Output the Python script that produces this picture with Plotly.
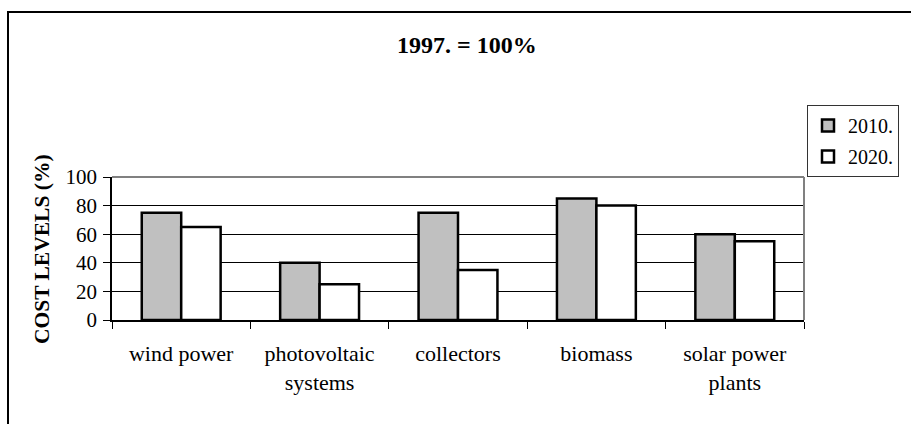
import plotly.graph_objects as go

categories = ["wind power", "photovoltaic<br>systems", "collectors", "biomass", "solar power<br>plants"]
values_2010 = [75, 40, 75, 85, 60]
values_2020 = [65, 25, 35, 80, 55]
series_names = ["2010.", "2020."]
y_ticks = [0, 20, 40, 60, 80, 100]

W, H = 911, 424
L, R, T, B = 112, 804, 177, 320
pw, ph = R - L, B - T

def px(x):
    return (x - L) / pw

def py(y):
    return (B - y) / ph

FONT = "Liberation Serif, Times New Roman, serif"

fig = go.Figure()
fig.add_trace(go.Bar(
    x=categories, y=values_2010, name=series_names[0],
    marker=dict(color="#C0C0C0", line=dict(color="black", width=2.5)),
    legendgroup="a",
))
fig.add_trace(go.Bar(
    x=categories, y=values_2020, name=series_names[1],
    marker=dict(color="white", line=dict(color="black", width=2.5)),
    legendgroup="b",
))

fig.update_layout(
    width=W, height=H,
    margin=dict(l=L, r=W - R, t=T, b=H - B, pad=0),
    paper_bgcolor="white", plot_bgcolor="white",
    barmode="group", bargap=0.43, bargroupgap=0,
    font=dict(family=FONT, size=20, color="black"),
    showlegend=True,
    legend=dict(
        x=px(807), y=py(105), xanchor="left", yanchor="top",
        bgcolor="white", bordercolor="#333333", borderwidth=1,
        font=dict(family=FONT, size=20, color="black"),
        traceorder="grouped", tracegroupgap=2,
        itemwidth=30,
    ),
    xaxis=dict(
        showline=True, linecolor="black", linewidth=1.5,
        ticks="outside", ticklen=7, tickcolor="black", tickwidth=1,
        tickson="boundaries", showgrid=False,
        tickfont=dict(family=FONT, size=22, color="black"),
        ticklabelstandoff=13,
    ),
    yaxis=dict(
        range=[0, 100], tickvals=y_ticks, ticktext=[str(v) for v in y_ticks],
        showline=True, linecolor="black", linewidth=1.5,
        ticks="outside", ticklen=7, tickcolor="black", tickwidth=1,
        showgrid=True, gridcolor="black", gridwidth=1,
        zeroline=False,
        tickfont=dict(family=FONT, size=21, color="black"),
        ticklabelstandoff=2,
    ),
    annotations=[
        dict(text="<b>1997. = 100%</b>", xref="paper", yref="paper",
             x=px(467), y=py(45), xanchor="center", yanchor="middle",
             showarrow=False, font=dict(family=FONT, size=24, color="black")),
        dict(text="<b>COST LEVELS (%)</b>", xref="paper", yref="paper",
             x=px(42), y=py(249), xanchor="center", yanchor="middle",
             textangle=-90, showarrow=False,
             font=dict(family=FONT, size=21.5, color="black")),
    ],
    shapes=[
        dict(type="line", xref="paper", yref="paper", x0=0, x1=1, y0=1, y1=1,
             line=dict(color="#808080", width=2), layer="above"),
        dict(type="line", xref="paper", yref="paper", x0=1, x1=1, y0=0, y1=1,
             line=dict(color="#808080", width=2), layer="above"),
        dict(type="rect", xref="paper", yref="paper",
             x0=px(8), x1=px(930), y0=py(440), y1=py(12),
             line=dict(color="black", width=2), fillcolor="rgba(0,0,0,0)", layer="below"),
    ],
)

fig.write_html(
    "out.html",
    config={"displayModeBar": False},
    post_script="document.body.style.margin='0';document.body.style.overflow='hidden';",
)
